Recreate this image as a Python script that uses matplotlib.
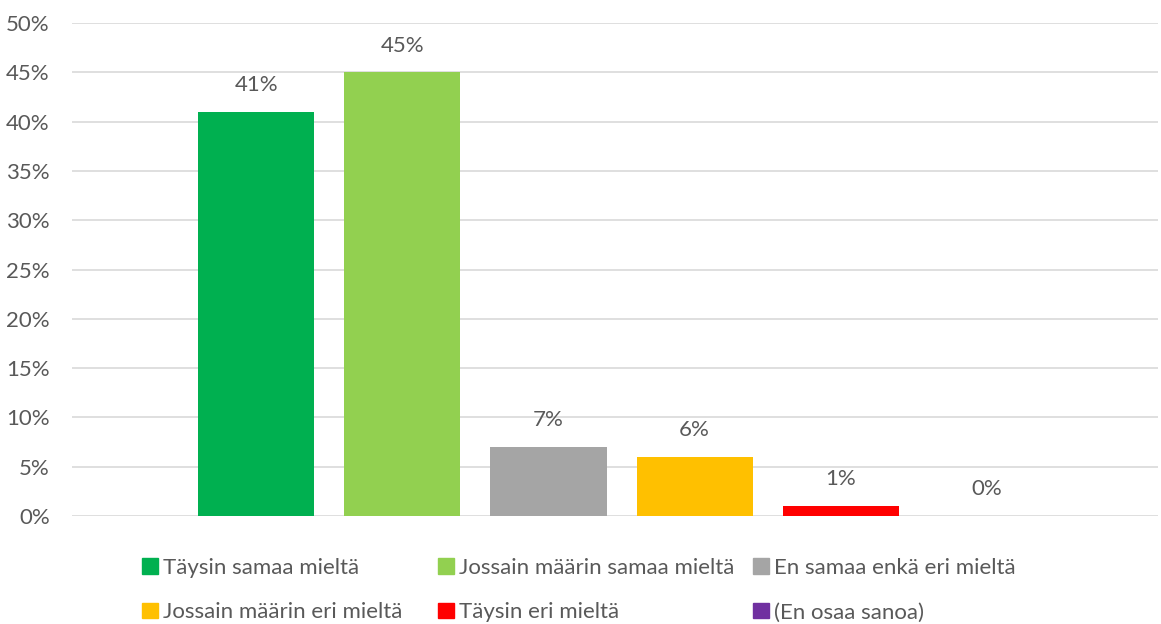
import matplotlib

matplotlib.use("Agg")
import matplotlib.pyplot as plt  # noqa: E402
from matplotlib.patches import Patch  # noqa: E402
from matplotlib.ticker import MultipleLocator, PercentFormatter  # noqa: E402

labels = [
    "Täysin samaa mieltä",
    "Jossain määrin samaa mieltä",
    "En samaa enkä eri mieltä",
    "Jossain määrin eri mieltä",
    "Täysin eri mieltä",
    "(En osaa sanoa)",
]
values = [41, 45, 7, 6, 1, 0]
colors = ["#00B050", "#92D050", "#A5A5A5", "#FFC000", "#FF0000", "#7030A0"]

TEXT = "#595959"
FS = 16
plt.rcParams["font.family"] = ["Lato", "DejaVu Sans"]

fig = plt.figure(figsize=(11.61, 6.24), dpi=100)
ax = fig.add_axes([72 / 1161, 1 - 516 / 624, 1086 / 1161, 493 / 624])

xs = range(len(values))
ax.bar(xs, values, width=0.795, color=colors, zorder=2)
for x, v in zip(xs, values):
    ax.text(x, v + 1.7, f"{v}%", ha="center", va="bottom", fontsize=FS, color=TEXT)

ax.set_xlim(-1.26, 6.17)
ax.set_ylim(0, 50)
ax.yaxis.set_major_locator(MultipleLocator(5))
ax.yaxis.set_major_formatter(PercentFormatter(decimals=0))
ax.grid(axis="y", color="#D9D9D9", lw=1.2, zorder=0)
ax.set_xticks([])
for s in ax.spines.values():
    s.set_visible(False)
ax.tick_params(axis="y", length=0, labelsize=FS, labelcolor=TEXT, pad=16)

# the legend is three columns, two rows; each column placed on its own
columns = [[0, 3], [1, 4], [2, 5]]
col_x = [142, 438, 753]
for idx, x0 in zip(columns, col_x):
    leg = fig.legend(
        [Patch(color=colors[i]) for i in idx],
        [labels[i] for i in idx],
        loc="upper left",
        bbox_to_anchor=(x0 / 1161, 1 - 558 / 624),
        frameon=False,
        fontsize=FS,
        handlelength=0.7,
        handleheight=0.7,
        handletextpad=0.25,
        labelspacing=1.1,
        borderaxespad=0,
        borderpad=0,
    )
    for t in leg.get_texts():
        t.set_color(TEXT)

fig.savefig("out.png", dpi=100)
